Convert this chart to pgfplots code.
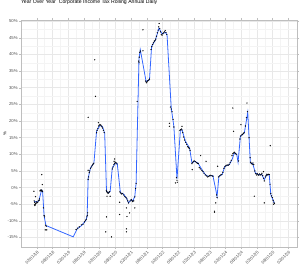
\documentclass[border=0pt]{standalone}
\usepackage{fontspec}
\setmainfont{Liberation Sans}
\usepackage{pgfplots}
\pgfplotsset{compat=1.18}
\usepackage{pgfplotstable}
\definecolor{lineblue}{RGB}{51,102,255}
\definecolor{ticktxt}{RGB}{77,77,77}
\definecolor{gridmaj}{RGB}{232,232,232}
\definecolor{gridmin}{RGB}{244,244,244}
\definecolor{border}{RGB}{190,190,190}

\pgfplotstableread{
m v
0 -4.1
1 -4.4
1.8 -3.9
2.8 -0.8
3.2 -1.1
3.8 -8.6
4.5 -11.4
14.9 -14.8
16.4 -12.4
18.1 -11.4
19.7 -9.9
20.2 -8.6
20.6 2.9
21.5 5.9
22.8 7.4
23.8 16.9
25.0 18.6
26.0 18.4
26.9 16.4
27.6 -1.1
28.4 -1.6
29.0 -1.1
29.8 5.9
31.1 7.4
31.7 7.2
32.9 -1.6
33.9 -1.8
35.2 -3.1
36.0 -4.6
37.1 -3.6
37.6 -4.1
38.4 -2.6
38.9 1.4
40.0 38.9
40.5 41.4
42.7 31.9
44.0 32.4
44.8 42.4
46.3 44.4
47.6 47.9
48.8 46.2
50.1 46.6
50.7 45.9
52.3 23.9
53.3 18.4
54.5 2.6
55.8 17.4
56.4 17.4
57.7 13.9
58.9 12.4
59.3 11.9
60.2 7.4
61.2 7.9
62.5 7.4
64.0 5.4
65.3 3.9
66.3 3.4
68.2 3.6
69.8 -2.6
70.5 3.4
71.7 3.9
72.8 6.4
74.5 6.9
75.5 8.4
76.4 10.4
77.3 10.0
77.8 7.6
78.7 15.4
80.2 16.4
81.5 22.6
82.5 7.4
83.4 7.2
84.4 4.4
85.6 3.9
86.9 3.9
87.8 2.4
88.8 3.9
89.7 3.9
90.3 -2.1
91.6 -4.6
}\linedata

\pgfplotstableread{
m v
0 -4.0
0.2 -4.5
0.4 -5.0
0.6 -4.8
0.8 -4.3
1.0 -4.6
1.3 -4.4
1.6 -4.0
1.9 -3.8
2.2 -1.0
2.4 -0.9
2.6 -0.7
2.8 -1.0
3.0 -0.8
3.2 -1.2
0.1 -5.2
0.3 -5.4
-0.1 -1.1
0.5 -2.7
2.0 -3.4
2.9 3.9
3.1 0.9
3.5 -6.1
3.8 -8.4
4.0 -8.8
4.2 -12.7
4.4 -11.3
4.6 -11.6
4.8 -12.7
16.0 -12.6
16.6 -12.2
17.2 -11.8
18.0 -11.2
18.6 -11.0
19.2 -10.3
19.6 -9.8
19.9 -9.5
20.1 -8.8
20.3 -8.3
20.4 -7.6
20.6 2.5
20.8 3.2
21.0 4.5
21.2 5.0
21.5 5.8
21.8 6.2
22.1 6.6
22.4 7.0
22.7 7.3
20.6 5.2
20.6 21.1
23.1 38.4
23.4 27.4
23.8 16.5
24.0 17.2
24.3 17.8
24.6 18.5
24.9 18.8
25.2 18.9
25.5 18.7
25.8 18.3
26.1 17.9
26.4 17.2
26.7 16.5
24.5 19.5
27.5 -0.8
27.7 -1.2
27.9 -1.5
28.2 -1.7
28.5 -1.4
28.8 -1.2
27.6 -8.8
27.3 -13.3
27.8 -2.6
29.8 5.6
30.1 6.2
30.4 6.9
30.7 7.3
31.0 7.6
31.3 7.4
31.6 7.1
30.7 8.6
30.5 7.9
32.7 -1.3
33.0 -1.6
33.3 -1.9
33.6 -1.8
32.6 -4.4
32.6 -8.1
29.5 -14.8
29.0 -2.6
34.2 -2.2
34.6 -2.7
35.0 -3.0
35.4 -3.4
35.7 -4.0
36.0 -4.6
35.2 -6.1
35.4 -8.7
35.2 -12.4
35.2 -13.3
36.4 -7.6
36.6 -4.0
37.0 -3.6
37.3 -3.9
37.6 -4.2
38.0 -4.0
38.4 -2.8
38.4 -6.1
38.7 -0.3
38.9 1.2
39.3 25.9
39.9 38.0
40.1 39.2
40.3 40.6
40.5 41.0
40.0 37.5
41.5 47.4
41.5 41.1
42.5 32.0
42.8 31.5
43.1 31.8
43.4 32.1
43.7 32.3
44.0 32.6
44.6 41.5
44.9 42.3
45.2 43.0
45.5 43.5
45.8 44.0
46.1 44.2
46.4 44.6
46.7 45.5
47.0 46.5
47.3 47.3
47.5 48.3
47.7 49.3
47.9 47.8
48.2 46.8
48.5 46.0
48.8 45.8
49.1 46.2
49.4 46.5
49.7 46.8
50.0 47.2
50.3 46.6
50.6 46.0
52.0 24.2
52.3 23.6
52.6 22.8
51.6 18.4
51.6 19.3
53.3 18.2
53.0 20.5
54.3 3.0
54.5 2.2
54.6 1.6
53.9 1.4
55.6 17.2
55.9 17.4
56.2 17.6
56.4 17.3
56.4 18.4
56.7 16.5
57.0 15.2
57.4 14.3
57.8 13.6
58.2 13.0
58.6 12.3
58.9 12.0
59.2 11.8
59.5 11.2
60.2 7.2
60.5 7.6
60.8 7.9
61.1 8.0
61.5 7.8
61.9 7.5
62.3 7.3
62.6 7.2
60.3 5.4
63.5 9.6
63.0 6.0
63.4 5.6
64.0 5.2
64.4 4.8
64.8 4.3
65.3 3.8
65.6 7.9
65.8 3.5
66.2 3.2
66.6 3.4
67.0 3.6
67.4 3.7
67.8 3.6
68.2 3.4
68.8 -7.1
68.8 -7.4
69.3 -4.6
69.6 -2.2
69.8 -3.0
70.0 6.4
70.4 3.2
70.8 3.5
71.2 3.8
71.6 3.9
72.0 4.6
72.4 5.8
72.8 6.3
73.2 6.6
73.6 6.8
74.0 6.7
74.4 7.0
74.8 7.6
75.2 8.2
75.5 9.6
75.8 10.2
76.1 10.4
76.4 10.6
76.8 10.3
77.1 10.0
75.8 23.9
76.1 16.9
78.0 8.0
78.5 14.6
78.8 15.5
79.2 15.8
79.5 16.0
79.8 16.3
80.1 16.5
78.9 18.9
80.6 18.5
81.0 21.0
81.2 25.4
81.4 22.8
82.0 15.0
82.4 9.0
82.6 7.6
82.9 7.3
83.2 7.0
83.5 7.4
83.8 6.9
84.0 -2.6
84.2 5.0
84.5 4.2
84.8 3.8
85.1 4.2
85.4 3.9
85.7 3.7
86.0 4.1
86.3 3.8
86.6 3.9
86.9 4.3
87.2 3.6
87.5 2.8
87.8 2.0
87.8 -4.6
87.5 4.8
88.2 3.2
88.5 3.6
88.8 4.0
89.1 3.8
89.4 4.0
89.7 3.9
90.1 12.6
90.0 1.0
90.3 -1.8
90.6 -2.5
90.9 -3.0
91.2 -3.8
91.5 -4.4
91.7 -4.8
91.3 -5.0
}\dotdata

\begin{document}
\begin{tikzpicture}
\begin{axis}[
  at={(0,0)}, anchor=south west,
  scale only axis,
  width=277bp, height=228bp,
  xmin=-5.1, xmax=100.3,
  ymin=-17.9, ymax=50.4,
  xtick={1,7,13,19,25,31,37,43,49,55,61,67,73,79,85,91,97},
  xticklabels={02/01/18,08/01/18,02/01/19,08/01/19,02/01/20,08/01/20,02/01/21,08/01/21,02/01/22,08/01/22,02/01/23,08/01/23,02/01/24,08/01/24,02/01/25,08/01/25,02/01/26},
  ytick={-15,-10,-5,0,5,10,15,20,25,30,35,40,45,50},
  yticklabels={-15\%,-10\%,-5\%,0\%,5\%,10\%,15\%,20\%,25\%,30\%,35\%,40\%,45\%,50\%},
  minor x tick num=1,
  minor y tick num=1,
  grid=both,
  major grid style={gridmaj, line width=0.5bp},
  minor grid style={gridmin, line width=0.35bp},
  axis line style={border, line width=0.5bp},
  tick align=outside,
  major tick length=2bp,
  minor tick length=0pt,
  tick style={border, line width=0.4bp},
  xticklabel style={rotate=45, anchor=north east, font=\fontsize{4.3}{5}\selectfont, text=ticktxt, inner sep=0.8bp},
  yticklabel style={font=\fontsize{4.3}{5}\selectfont, text=ticktxt, inner sep=1bp},
  /pgf/number format/assume math mode=true,
  ylabel={\%},
  every axis y label/.style={at={(axis description cs:-0.058,0.5)}, rotate=90, anchor=center, font=\fontsize{4.3}{5}\selectfont, text=black},
  title={Year Over Year\ \ Corporate Income Tax Rolling Annual Daily},
  title style={at={(axis description cs:0,1)}, anchor=west, yshift=11.5bp, font=\fontsize{5.2}{6}\selectfont, inner sep=0pt},
  clip=true,
]
\addplot[lineblue, line width=0.8bp] table[x=m, y=v] {\linedata};
\addplot[only marks, mark=*, mark size=0.42bp, draw=black, fill=black, fill opacity=0.85, draw opacity=0.85] table[x=m, y=v] {\dotdata};
\end{axis}
\path[use as bounding box] (-20bp,-27bp) rectangle (280bp,246bp);
\end{tikzpicture}
\end{document}
